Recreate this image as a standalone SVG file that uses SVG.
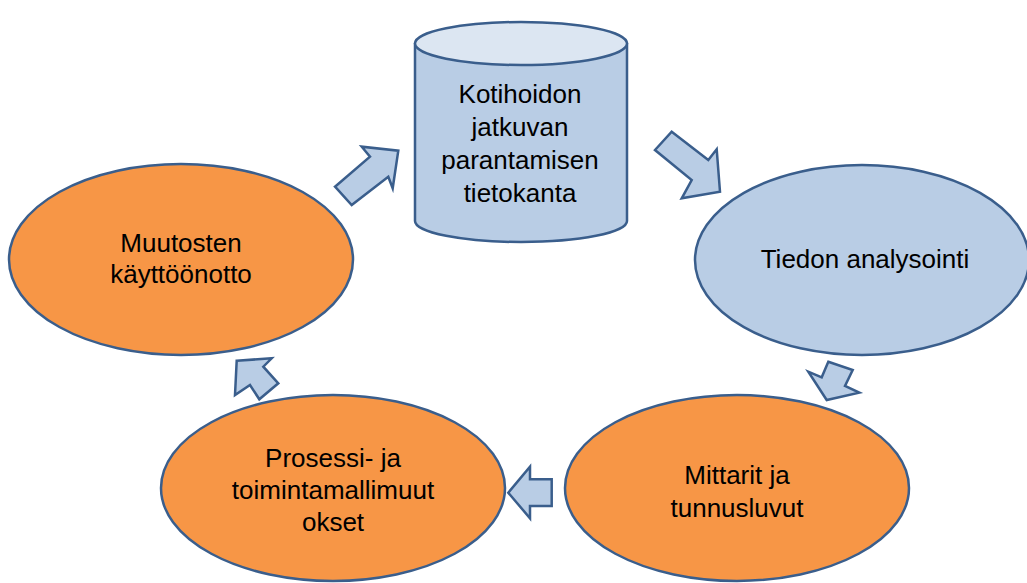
<svg xmlns="http://www.w3.org/2000/svg" width="1027" height="583" viewBox="0 0 1027 583">
<style>
.orange{fill:#F79646;stroke:#3A5E8C;stroke-width:2.5}
.blue{fill:#B9CDE5;stroke:#3A5E8C;stroke-width:2.5}
.top{fill:#DCE6F2;stroke:#3A5E8C;stroke-width:2.5}
.arrow{fill:#B9CDE5;stroke:#3A5E8C;stroke-width:2.5;stroke-linejoin:miter}
text{font-family:"Liberation Sans",Arial,sans-serif;font-size:26px;fill:#000;text-anchor:middle}
</style>
<rect width="1027" height="583" fill="#fff"/>
<g id="db">
<path class="blue" d="M415,44 L415,221 A106,21 0 0 0 627,221 L627,44 Z"/>
<ellipse class="top" cx="521" cy="43.5" rx="106" ry="21.5"/>
<text x="520" y="103">Kotihoidon</text>
<text x="520" y="136">jatkuvan</text>
<text x="520" y="169">parantamisen</text>
<text x="520" y="202">tietokanta</text>
</g>
<g id="analyysi">
<ellipse class="blue" cx="862" cy="260" rx="167" ry="95"/>
<text x="865" y="268">Tiedon analysointi</text>
</g>
<g id="mittarit">
<ellipse class="orange" cx="737" cy="488" rx="172" ry="93"/>
<text x="737" y="484">Mittarit ja</text>
<text x="737" y="517">tunnusluvut</text>
</g>
<g id="prosessi">
<ellipse class="orange" cx="333" cy="488" rx="172" ry="93"/>
<text x="333" y="467">Prosessi- ja</text>
<text x="333" y="499">toimintamallimuut</text>
<text x="333" y="531">okset</text>
</g>
<g id="muutokset">
<ellipse class="orange" cx="181" cy="259.5" rx="172" ry="95.5"/>
<text x="181" y="252">Muutosten</text>
<text x="181" y="283">käyttöönotto</text>
</g>
<g id="connectors">
<polygon class="arrow" points="335,186.7 370,156.7 361.7,146.7 398.3,150.7 392.7,188.3 388.3,176.7 351.7,205"/>
<polygon class="arrow" points="671.7,131.7 708.3,160 716.7,149.3 720,191.7 681.7,198.3 691.7,180 655,150"/>
<polygon class="arrow" points="828.3,361.7 852.7,370 845,386 859.3,392.7 826.7,400 808.3,371.7 821.7,377.3"/>
<polygon class="arrow" points="551.7,479.3 530,479.3 530,466.7 508.3,492.7 530,518.3 530,506 551.7,506"/>
<polygon class="arrow" points="236.7,360.7 271.7,358.3 263.3,366.7 278.3,383.3 259.3,399.3 250,385 235,395"/>
</g>
</svg>
